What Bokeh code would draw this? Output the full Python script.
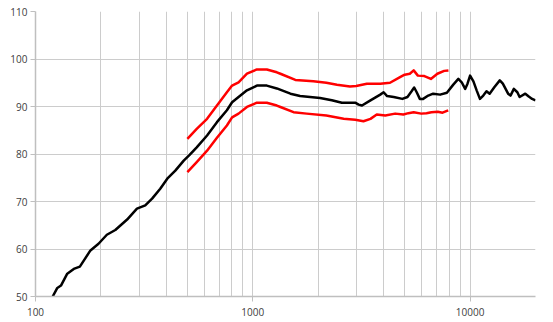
from bokeh.plotting import figure
from bokeh.models import Range1d, FixedTicker
from bokeh.embed import file_html
from bokeh.resources import INLINE

# Frequency response (black), upper/lower limits (red)
freq_main = [120, 126, 131, 140, 150, 160, 179, 195, 213, 233, 264, 293, 320, 344, 375,
             404, 440, 481, 512, 552, 616, 684, 760, 803, 860, 940, 1045, 1160, 1290,
             1490, 1650, 2040, 2310, 2570, 2960, 3070, 3180, 3480, 3860, 4000, 4150,
             4450, 4880, 5150, 5380, 5530, 5680, 5870, 6080, 6420, 6760, 7280, 7820,
             8370, 8830, 9150, 9490, 9730, 10000, 10360, 10720, 11100, 11500, 11900,
             12300, 12950, 13700, 14150, 14960, 15350, 15900, 16500, 16900, 17950,
             18620, 19300, 20000]
spl_main = [50.0, 51.8, 52.3, 54.8, 55.8, 56.3, 59.7, 61.1, 63.0, 64.0, 66.2, 68.5, 69.2, 70.6, 72.7,
            74.8, 76.5, 78.6, 79.8, 81.4, 83.9, 86.7, 89.2, 90.9, 92.0, 93.4, 94.4, 94.4, 93.8,
            92.7, 92.2, 91.8, 91.3, 90.8, 90.8, 90.4, 90.2, 91.3, 92.5, 93.0, 92.2,
            92.0, 91.6, 92.0, 93.2, 94.0, 93.0, 91.6, 91.6, 92.3, 92.7, 92.5, 92.9,
            94.6, 95.8, 95.1, 93.7, 94.8, 96.5, 95.3, 93.4, 91.6, 92.3, 93.2,
            92.7, 94.1, 95.5, 94.8, 92.7, 92.3, 93.7, 93.0, 92.0, 92.7,
            92.1, 91.6, 91.3]

freq_upper = [500, 552, 616, 684, 760, 803, 860, 940, 1045, 1160, 1290, 1340, 1570, 1900,
              2180, 2440, 2800, 2990, 3350, 3860, 4280, 4760, 5000, 5280, 5500, 5750,
              6160, 6600, 7070, 7600, 7950]
spl_upper = [83.2, 85.3, 87.4, 90.2, 93.0, 94.4, 95.1, 96.9, 97.8, 97.8, 97.2, 96.9, 95.6, 95.3,
             95.0, 94.6, 94.2, 94.3, 94.8, 94.8, 95.0, 96.2, 96.7, 96.9, 97.6, 96.5,
             96.4, 95.8, 96.9, 97.5, 97.6]

freq_lower = [500, 552, 616, 684, 760, 803, 860, 940, 1045, 1160, 1290, 1340, 1540, 1770,
              2180, 2620, 2960, 3230, 3480, 3720, 4070, 4520, 4930, 5200, 5500, 5960,
              6300, 6640, 7100, 7470, 7930]
spl_lower = [76.2, 78.3, 80.7, 83.4, 86.0, 87.7, 88.5, 89.9, 90.8, 90.8, 90.2, 89.9, 88.8, 88.5,
             88.1, 87.4, 87.2, 86.9, 87.4, 88.3, 88.1, 88.5, 88.3, 88.6, 88.8, 88.5,
             88.6, 88.8, 88.9, 88.7, 89.2]

x_ticks = [100, 1000, 10000]
x_grid = [m * d for d in (100, 1000, 10000) for m in range(1, 10)] + [20000]
y_ticks = [50, 60, 70, 80, 90, 100, 110]

p = figure(width=553, height=322, x_axis_type="log",
           x_range=Range1d(100, 20000), y_range=Range1d(50, 110),
           output_backend="svg", toolbar_location=None,
           min_border_left=35, min_border_right=18, min_border_top=11, min_border_bottom=26)
p.outline_line_color = None
p.background_fill_color = "white"
p.border_fill_color = "white"

p.xaxis.ticker = FixedTicker(ticks=x_ticks, minor_ticks=[])
p.yaxis.ticker = FixedTicker(ticks=y_ticks, minor_ticks=[])
p.xgrid.ticker = FixedTicker(ticks=x_grid)
p.ygrid.ticker = FixedTicker(ticks=y_ticks)
p.xaxis.major_label_overrides = {100: "100", 1000: "1000", 10000: "10000"}

for g in (p.xgrid, p.ygrid):
    g.grid_line_color = "#cccccc"
    g.grid_line_width = 1

for ax in (p.xaxis, p.yaxis):
    ax.axis_line_color = "#bfbfbf"
    ax.axis_line_width = 1.5
    ax.major_tick_line_color = "#bfbfbf"
    ax.major_tick_in = 0
    ax.major_tick_out = 5
    ax.minor_tick_line_color = None
    ax.major_label_text_font = "Open Sans"
    ax.major_label_text_font_size = "10px"
    ax.major_label_text_color = "#404040"
p.yaxis.major_label_standoff = 3
p.xaxis.major_label_standoff = 6

p.line(freq_upper, spl_upper, line_color="#ff0000", line_width=2.5, line_join="round")
p.line(freq_lower, spl_lower, line_color="#ff0000", line_width=2.5, line_join="round")
p.line(freq_main, spl_main, line_color="#000000", line_width=2.5, line_join="round")

open("out.html", "w").write(file_html(p, INLINE))
